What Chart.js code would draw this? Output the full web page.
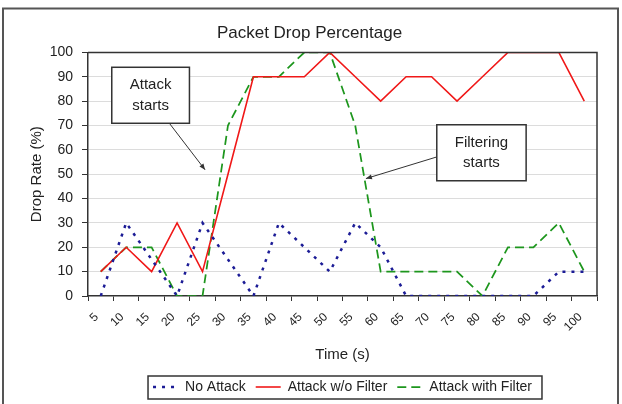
<!DOCTYPE html>
<html>
<head>
<meta charset="utf-8">
<script src="https://cdn.jsdelivr.net/npm/chart.js@4.4.1/dist/chart.umd.min.js"></script>
<style>
html,body{margin:0;padding:0;background:#fff;}
#wrap{width:622px;height:404px;}
</style>
</head>
<body>
<div id="wrap"><canvas id="c" width="622" height="404"></canvas></div>
<script>
// ---- data ----
const categories = ['5','10','15','20','25','30','35','40','45','50','55','60','65','70','75','80','85','90','95','100'];
const noAttack = [0,30,15,0,30,15,0,30,20,10,30,20,0,0,0,0,0,0,10,10];
const attackNoFilter = [10,20,10,30,10,50,90,90,90,100,90,80,90,90,80,90,100,100,100,80];
const attackWithFilter = [10,20,20,0,0,70,90,90,100,100,70,10,10,10,10,0,20,20,30,10];
const yTicks = [0,10,20,30,40,50,60,70,80,90,100];
const seriesNames = ['No Attack','Attack w/o Filter','Attack with Filter'];
const chartTitle = 'Packet Drop Percentage';
const xTitle = 'Time (s)';
const yTitle = 'Drop Rate (%)';
const noteTexts = [['Attack','starts'],['Filtering','starts']];

const FONT = "'Liberation Sans', Arial, sans-serif";
Chart.defaults.font.family = FONT;
Chart.defaults.color = '#222';

// annotation anchors in data space (category index, value)
const noteAnchors = [
  {box:[1.96, 82.4], from:[2.72, 70.6], to:[4.10, 51.8]},
  {box:[14.96, 58.8], from:[13.21, 57.1], to:[10.42, 48.2]}
];

const framePlugin = {
  id: 'frame',
  beforeDraw(chart){
    const ctx = chart.ctx;
    ctx.save();
    ctx.fillStyle = '#fff';
    ctx.fillRect(0,0,chart.width,chart.height);
    ctx.restore();
  },
  afterDatasetsDraw(chart){
    const {ctx, chartArea:a, scales:{x,y}} = chart;
    ctx.save();
    // plot border top/right
    ctx.strokeStyle = '#333';
    ctx.lineWidth = 1.5;
    ctx.beginPath();
    ctx.moveTo(a.left, a.top); ctx.lineTo(a.right, a.top); ctx.lineTo(a.right, a.bottom);
    ctx.stroke();
    // annotations
    ctx.font = '15px ' + FONT;
    noteAnchors.forEach((n,i)=>{
      const lines = noteTexts[i];
      const cx = x.getPixelForValue(n.box[0]);
      const cy = y.getPixelForValue(n.box[1]);
      const tw = Math.max(...lines.map(t=>ctx.measureText(t).width));
      const lh = 20.5;
      const w = tw + 36, h = lines.length*lh + 15;
      // arrow
      const fx = x.getPixelForValue(n.from[0]), fy = y.getPixelForValue(n.from[1]);
      const tx = x.getPixelForValue(n.to[0]), ty = y.getPixelForValue(n.to[1]);
      ctx.strokeStyle = '#333'; ctx.fillStyle = '#333'; ctx.lineWidth = 1;
      ctx.beginPath(); ctx.moveTo(fx,fy); ctx.lineTo(tx,ty); ctx.stroke();
      const ang = Math.atan2(ty-fy, tx-fx);
      ctx.beginPath();
      ctx.moveTo(tx,ty);
      ctx.lineTo(tx - 6*Math.cos(ang) + 2.5*Math.sin(ang), ty - 6*Math.sin(ang) - 2.5*Math.cos(ang));
      ctx.lineTo(tx - 6*Math.cos(ang) - 2.5*Math.sin(ang), ty - 6*Math.sin(ang) + 2.5*Math.cos(ang));
      ctx.closePath(); ctx.fill();
      // box
      ctx.fillStyle = '#fff';
      ctx.fillRect(cx - w/2, cy - h/2, w, h);
      ctx.strokeStyle = '#333'; ctx.lineWidth = 1.5;
      ctx.strokeRect(cx - w/2, cy - h/2, w, h);
      ctx.fillStyle = '#222';
      ctx.textAlign = 'center'; ctx.textBaseline = 'middle';
      lines.forEach((t,k)=>{
        ctx.fillText(t, cx, cy - (lines.length-1)*lh/2 + k*lh);
      });
    });
    ctx.restore();
  },
  afterDraw(chart){
    const ctx = chart.ctx;
    ctx.save();
    // legend border
    const hb = chart.legend && chart.legend.legendHitBoxes;
    if (hb && hb.length){
      const l = hb[0].left - 5;
      const r = hb[hb.length-1].left + hb[hb.length-1].width + 10;
      const t = hb[0].top - 4;
      const b = hb[0].top + hb[0].height + 5;
      ctx.strokeStyle = '#333'; ctx.lineWidth = 1.5;
      ctx.strokeRect(l, t, r-l, b-t);
    }
    // outer frame
    ctx.strokeStyle = '#555'; ctx.lineWidth = 2;
    ctx.strokeRect(3, 8.5, 615, 405);
    ctx.restore();
  }
};

new Chart(document.getElementById('c'), {
  type: 'line',
  data: {
    labels: categories,
    datasets: [
      {label: seriesNames[0], data: noAttack, borderColor:'#1c1c96', backgroundColor:'#1c1c96', borderWidth:2.5, borderDash:[3,6], pointRadius:0, tension:0, fill:false},
      {label: seriesNames[1], data: attackNoFilter, borderColor:'#f01818', backgroundColor:'#f01818', borderWidth:1.6, pointRadius:0, tension:0, fill:false},
      {label: seriesNames[2], data: attackWithFilter, borderColor:'#1d961d', backgroundColor:'#1d961d', borderWidth:1.75, borderDash:[9,5], pointRadius:0, tension:0, fill:false}
    ]
  },
  options: {
    responsive:false,
    animation:false,
    devicePixelRatio:1,
    events:[],
    layout:{padding:{left:22,right:25,top:0,bottom:0}},
    plugins:{
      title:{display:true, text:chartTitle, font:{size:17, weight:'normal'}, color:'#222', padding:{top:23,bottom:9}},
      legend:{position:'bottom', fullSize:false,
        labels:{usePointStyle:true, pointStyle:'line', pointStyleWidth:25, boxHeight:14, font:{size:14}, color:'#222', padding:10,
          generateLabels(chart){
            const items = Chart.defaults.plugins.legend.labels.generateLabels(chart);
            items.forEach((it,i)=>{
              const ds = chart.data.datasets[it.datasetIndex !== undefined ? it.datasetIndex : i];
              it.lineDash = ds.borderDash || [];
              it.lineWidth = ds.borderWidth;
              it.strokeStyle = ds.borderColor;
              it.pointStyle = 'line';
            });
            return items;
          }}},
      tooltip:{enabled:false}
    },
    scales:{
      x:{
        type:'category', offset:true,
        grid:{display:true, drawOnChartArea:false, offset:true, tickLength:5, tickColor:'#333', tickWidth:1},
        border:{color:'#333', width:1.5},
        ticks:{maxRotation:45, minRotation:45, autoSkip:false, font:{size:12}, color:'#222', padding:9, labelOffset:-4},
        title:{display:true, text:xTitle, font:{size:15}, color:'#222', padding:{top:0,bottom:6}},
        afterFit(s){ s.height = 74; }
      },
      y:{
        min:0, max:100,
        afterBuildTicks(s){ s.ticks = yTicks.map(v=>({value:v})); },
        grid:{color:(c)=> (c.tick && (c.tick.value===0 || c.tick.value===100)) ? 'rgba(0,0,0,0)' : '#dcdcdc', lineWidth:1, tickLength:6, tickColor:'#333', tickWidth:1},
        border:{color:'#333', width:1.5},
        ticks:{font:{size:14}, color:'#222', padding:9},
        title:{display:true, text:yTitle, font:{size:15}, color:'#222', padding:{top:6,bottom:0}},
        afterFit(s){ s.width = 66; }
      }
    }
  },
  plugins:[framePlugin]
});
</script>
</body>
</html>
